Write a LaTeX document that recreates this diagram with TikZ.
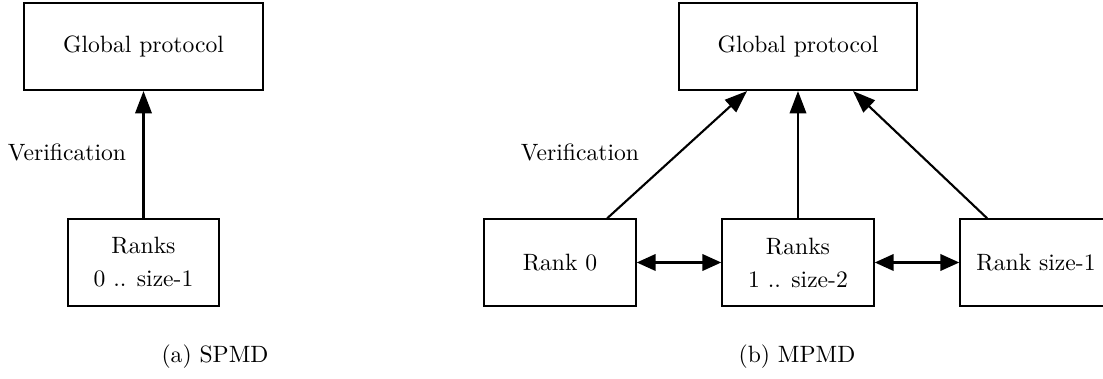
\documentclass[tikz,border=0pt]{standalone}
\usetikzlibrary{arrows.meta}
\begin{document}
\begin{tikzpicture}[x=0.4237pt,y=-0.4237pt,
  box/.style={draw,line width=0.85pt,inner sep=0pt,align=center,font=\fontsize{10}{14}\selectfont},
  gbox/.style={box,minimum width=101.1pt,minimum height=36.9pt},
  rbox/.style={box,minimum width=64.2pt,minimum height=36.6pt},
  arr/.style={line width=0.9pt,-{Triangle[length=9.5pt,width=7pt]}},
  darr/.style={line width=0.9pt,{Triangle[length=8pt,width=7pt]}-{Triangle[length=8pt,width=7pt]}},
  lbl/.style={font=\fontsize{10}{12}\selectfont,inner sep=0pt}]
\useasboundingbox (0,0) rectangle (1103,379);
% (a) SPMD
\node[gbox] (gp1) at (143.5,46.5) {Global protocol};
\node[rbox] (r1) at (143.5,262.5) {Ranks\\0 .. size-1};
\node[lbl] (v1) at (67,152) {Verification};
\draw[arr] (r1.north) -- (gp1.south);
\node[lbl] (capa) at (215,357) {(a) SPMD};
% (b) MPMD
\node[gbox] (gp2) at (798,46.5) {Global protocol};
\node[rbox] (r0) at (560,262.5) {Rank 0};
\node[rbox] (rm) at (798,262.5) {Ranks\\1 .. size-2};
\node[rbox] (rl) at (1036,262.5) {Rank size-1};
\node[lbl] (v2) at (580,152) {Verification};
\draw[arr] ([xshift=20pt]r0.north) -- ([xshift=-21.6pt]gp2.south);
\draw[arr] (rm.north) -- (gp2.south);
\draw[arr] ([xshift=-20.7pt]rl.north) -- ([xshift=23.3pt]gp2.south);
\draw[darr] (r0.east) -- (rm.west);
\draw[darr] (rm.east) -- (rl.west);
\node[lbl] (capb) at (797,357) {(b) MPMD};
\end{tikzpicture}
\end{document}
